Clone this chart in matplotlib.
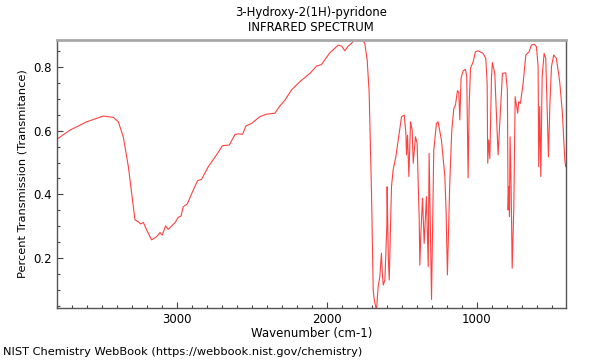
import matplotlib
matplotlib.use('Agg')
import matplotlib.pyplot as plt
from matplotlib.ticker import MultipleLocator

TITLE = '3-Hydroxy-2(1H)-pyridone\nINFRARED SPECTRUM'
X_LABEL = 'Wavenumber (cm-1)'
Y_LABEL = 'Percent Transmission (Transmitance)'
FOOTER = 'NIST Chemistry WebBook (https://webbook.nist.gov/chemistry)'

# values
wavenumber = [
    3798, 3713, 3602, 3491, 3424, 3391, 3358, 3324, 3302, 3280, 3258, 3242,
    3224, 3202, 3169, 3136, 3113, 3098, 3076, 3058, 3013, 2991, 2973, 2958,
    2931, 2891, 2862, 2836, 2791, 2736, 2696, 2651, 2613, 2591, 2562, 2540,
    2502, 2447, 2402, 2347, 2313, 2280, 2236, 2180, 2113, 2069, 2036, 1980,
    1924, 1902, 1880, 1858, 1836, 1820, 1762, 1747, 1731, 1718, 1702, 1691,
    1684, 1675, 1669, 1658, 1647, 1636, 1630, 1624, 1613, 1600, 1598, 1590,
    1584, 1569, 1558, 1540, 1524, 1502, 1484, 1473, 1469, 1462, 1453, 1442,
    1431, 1424, 1409, 1398, 1384, 1380, 1373, 1362, 1351, 1336, 1324, 1318,
    1310, 1302, 1295, 1287, 1269, 1258, 1236, 1213, 1205, 1196, 1180, 1167,
    1153, 1142, 1129, 1120, 1113, 1105, 1091, 1076, 1067, 1058, 1051, 1042,
    1024, 1009, 991, 958, 940, 931, 927, 920, 913, 902, 896, 880,
    858, 847, 829, 807, 796, 791, 787, 782, 778, 771, 764, 753,
    744, 736, 727, 720, 709, 691, 673, 651, 636, 618, 602, 591,
    587, 580, 573, 564, 551, 540, 531, 522, 513, 502, 487, 469,
    447, 429, 413, 407,
]
transmittance = [
    0.574, 0.602, 0.628, 0.646, 0.642, 0.628, 0.581, 0.487, 0.403, 0.320, 0.314, 0.307,
    0.312, 0.288, 0.257, 0.267, 0.280, 0.272, 0.301, 0.290, 0.311, 0.328, 0.332, 0.361,
    0.370, 0.414, 0.443, 0.447, 0.487, 0.524, 0.553, 0.555, 0.588, 0.590, 0.589, 0.615,
    0.623, 0.644, 0.652, 0.655, 0.678, 0.696, 0.728, 0.754, 0.780, 0.803, 0.808, 0.845,
    0.869, 0.866, 0.851, 0.866, 0.874, 0.884, 0.884, 0.874, 0.822, 0.720, 0.400, 0.100,
    0.070, 0.050, 0.035, 0.110, 0.141, 0.215, 0.150, 0.115, 0.131, 0.300, 0.424, 0.200,
    0.131, 0.424, 0.477, 0.518, 0.571, 0.644, 0.649, 0.592, 0.524, 0.586, 0.456, 0.628,
    0.602, 0.498, 0.581, 0.560, 0.320, 0.178, 0.278, 0.388, 0.246, 0.393, 0.173, 0.529,
    0.300, 0.070, 0.300, 0.539, 0.623, 0.628, 0.571, 0.456, 0.350, 0.147, 0.440, 0.600,
    0.670, 0.681, 0.726, 0.720, 0.634, 0.765, 0.788, 0.793, 0.770, 0.452, 0.676, 0.796,
    0.817, 0.848, 0.851, 0.843, 0.827, 0.749, 0.498, 0.571, 0.513, 0.770, 0.814, 0.780,
    0.524, 0.623, 0.780, 0.782, 0.728, 0.351, 0.424, 0.330, 0.581, 0.420, 0.168, 0.361,
    0.707, 0.681, 0.655, 0.691, 0.686, 0.749, 0.838, 0.848, 0.869, 0.872, 0.864, 0.801,
    0.487, 0.676, 0.456, 0.770, 0.843, 0.827, 0.676, 0.518, 0.676, 0.801, 0.838, 0.827,
    0.754, 0.655, 0.508, 0.487,
]


def plot():
    fig = plt.figure(figsize=(6, 3.6), dpi=100)
    ax = fig.add_axes([57 / 600, 52 / 360, 509 / 600, 268 / 360])

    ax.plot(wavenumber, transmittance, color='#ff2020', lw=0.8, alpha=0.85)

    ax.set_xlim(3800, 405)
    ax.set_ylim(0.043, 0.885)

    ax.xaxis.set_major_locator(MultipleLocator(1000))
    ax.xaxis.set_minor_locator(MultipleLocator(100))
    ax.yaxis.set_major_locator(MultipleLocator(0.2))
    ax.yaxis.set_minor_locator(MultipleLocator(0.05))
    ax.tick_params(which='both', direction='in', colors='#444444', labelcolor='black',
                   labelsize=8.5, top=False, right=False)
    ax.tick_params(which='major', length=4, width=0.8)
    ax.tick_params(which='minor', length=2.5, width=0.8)

    for side in ['left', 'right', 'bottom']:
        ax.spines[side].set_color('#555555')
        ax.spines[side].set_linewidth(1.0)
    ax.spines['top'].set_color('#a8a8a8')
    ax.spines['top'].set_linewidth(2.0)

    ax.set_xlabel(X_LABEL, fontsize=8.5, labelpad=1)
    ax.set_ylabel(Y_LABEL, fontsize=8.2, labelpad=4)
    fig.text(311 / 600, 1 - 20 / 360, TITLE, ha='center', va='center',
             fontsize=8.4, linespacing=1.25)
    fig.text(3 / 600, 1 - 352 / 360, FOOTER, ha='left', va='center', fontsize=8.2)

    fig.savefig('out.png', dpi=100)
    plt.close(fig)


if __name__ == '__main__':
    plot()
